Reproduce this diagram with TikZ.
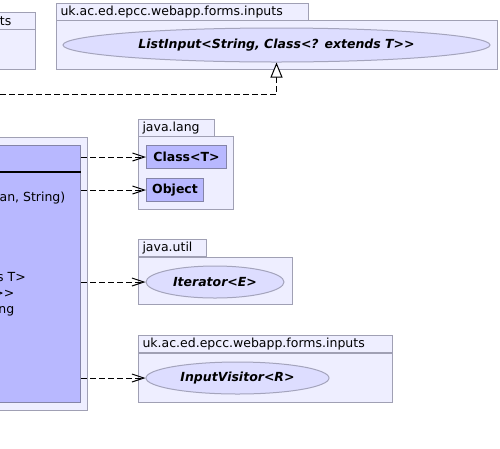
\documentclass[tikz,border=0pt]{standalone}
\usepackage{fontspec}
\setmainfont{DejaVu Sans}[Ligatures=TeXOff]
\usepackage{tikz}
\usetikzlibrary{positioning, arrows.meta, shapes.geometric}
\definecolor{pkgfill}{HTML}{EEEEFF}
\definecolor{pkgline}{HTML}{A0A0B4}
\definecolor{clsfill}{HTML}{B8B8FF}
\definecolor{clsline}{HTML}{8484A8}
\definecolor{iffill}{HTML}{DDDDFF}
\definecolor{ifline}{HTML}{A4A4BC}
\newcommand{\umlsize}{\fontsize{12.5}{15}\selectfont}
\tikzstyle{package} = [rectangle, draw=pkgline, fill=pkgfill, inner sep=0pt, anchor=north west, line width=1pt]
\tikzstyle{tab} = [package, inner xsep=4pt, inner ysep=0pt, minimum height=17pt, text height=9.5pt, text depth=3pt, align=left, font=\umlsize]
\tikzstyle{classbox} = [rectangle, draw=clsline, fill=clsfill, inner sep=0pt, anchor=north west, line width=1pt, font=\umlsize\bfseries]
\tikzstyle{iface} = [ellipse, draw=ifline, fill=iffill, inner sep=0pt, line width=1pt, font=\umlsize\bfseries\itshape]
\tikzstyle{member} = [inner sep=0pt, anchor=base east, font=\umlsize]
\tikzstyle{dep} = [line width=1pt, dash pattern=on 6pt off 3pt, -{Straight Barb[length=12pt,width=8pt,line width=1pt]}]
\tikzstyle{realize} = [line width=1pt, dash pattern=on 6pt off 3pt, -{Triangle[length=15pt,width=12pt,fill=white,line width=1pt]}]

\begin{document}
\begin{tikzpicture}[x=1pt, y=-1pt]
\useasboundingbox (0,0) rectangle (500,448);
\clip (0,0) rectangle (500,448);

\node (tsbody) [package, minimum width=60pt, minimum height=40pt, anchor=north east] at (36,29) {};
\node (tstab) [package, minimum width=60pt, minimum height=17pt, anchor=north east] at (36,12) {};
\node (tslabel) [member] at (11.5,25) {ts};

\node (inbody) [package, minimum width=441pt, minimum height=49pt] at (56,20) {};
\node (intab) [tab, text width=244pt] at (56,3) {uk.ac.ed.epcc.webapp.forms.inputs};
\node (listin) [iface, minimum width=427pt, minimum height=34pt] at (276.5,45) {ListInput<String, Class<? extends T>>};

\node (formpkg) [package, minimum width=120pt, minimum height=273pt, anchor=north east] at (88,137) {};
\node (form) [classbox, minimum width=110pt, minimum height=257pt, anchor=north east] at (81,145) {};
\draw [line width=2pt] (form.west |- 0,172) -- (form.east |- 0,172);
\node (m1) [member] at (65.5,201) {an, String)};
\node (m2) [member] at (26,281) {s T>};
\node (m3) [member] at (14.5,297) {>>};
\node (m4) [member] at (14.5,313) {ng};

\node (langbody) [package, minimum width=95pt, minimum height=73pt] at (138,136) {};
\node (langtab) [tab, text width=68pt] at (138,119) {java.lang};
\node (clsT) [classbox, minimum width=80pt, minimum height=23pt] at (146,145) {Class<T>};
\node (object) [classbox, minimum width=57pt, minimum height=23pt] at (146,178) {Object};

\node (utilbody) [package, minimum width=154pt, minimum height=47pt] at (138,257) {};
\node (utiltab) [tab, text width=60pt] at (138,239) {java.util};
\node (iter) [iface, minimum width=138pt, minimum height=32pt] at (215,282) {Iterator<E>};

\node (visbody) [package, minimum width=254pt, minimum height=49pt] at (138,353) {};
\node (vistab) [tab, text width=246pt] at (138,335) {uk.ac.ed.epcc.webapp.forms.inputs};
\node (visitor) [iface, minimum width=183pt, minimum height=32pt] at (237.5,378) {InputVisitor<R>};

\coordinate (formtop) at (0,94);
\draw [realize] (formtop) -| (listin.south);
\draw [dep] (form.east |- clsT) -- (clsT);
\draw [dep] (form.east |- object) -- (object);
\draw [dep] (form.east |- iter) -- (iter);
\draw [dep] (form.east |- visitor) -- (visitor);
\end{tikzpicture}
\end{document}
